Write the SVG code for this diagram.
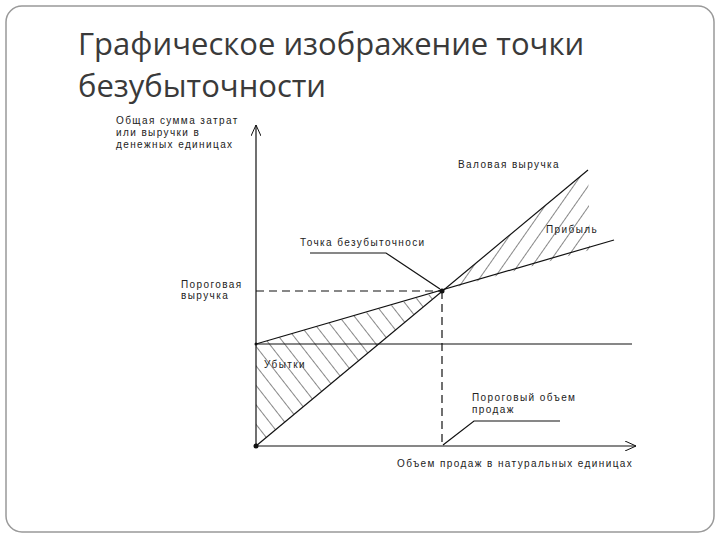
<svg xmlns="http://www.w3.org/2000/svg" width="720" height="540" viewBox="0 0 720 540">
<style>
.t{font-family:"Liberation Sans",Arial,sans-serif;font-size:10px;fill:#222;letter-spacing:1.4px}
.ln{stroke:#111;stroke-width:1.2;fill:none}
.ds{stroke:#111;stroke-width:1.2;fill:none;stroke-dasharray:8,5}
</style>
<defs>
<pattern id="hl" width="12" height="12" patternUnits="userSpaceOnUse" patternTransform="rotate(-38)"><line x1="0" y1="0" x2="0" y2="12" stroke="#111" stroke-width="1"/></pattern>
<pattern id="hp" width="12" height="12" patternUnits="userSpaceOnUse" patternTransform="rotate(35)"><line x1="0" y1="0" x2="0" y2="12" stroke="#111" stroke-width="1"/></pattern>
<marker id="ar" markerWidth="12" markerHeight="10" refX="11" refY="5" orient="auto" markerUnits="userSpaceOnUse"><path d="M0,0 L11,5 L0,10" fill="none" stroke="#111" stroke-width="1"/></marker>
</defs>
<rect width="720" height="540" fill="#fff"/>
<rect x="6" y="6" width="708" height="526" rx="16" fill="none" stroke="#999" stroke-width="1.5"/>
<g font-family="'Open Sans','Liberation Sans',sans-serif" font-size="31" fill="#3a3a3a">
<text x="78" y="55">Графическое изображение точки</text>
<text x="78" y="97">безубыточности</text>
</g>
<g id="hatch">
<polygon points="256,344 442,291 256,446" fill="url(#hl)"/>
<polygon points="442,291 588,170 590,250" fill="url(#hp)"/>
</g>
<g id="connectors">
<line class="ln" x1="256" y1="446" x2="256" y2="125" marker-end="url(#ar)"/>
<line class="ln" x1="256" y1="446" x2="636" y2="446" marker-end="url(#ar)"/>
<line class="ln" x1="256" y1="446" x2="588" y2="170"/>
<line class="ln" x1="256" y1="344" x2="614" y2="240"/>
<line class="ln" x1="256" y1="344" x2="632" y2="344"/>
<line class="ds" x1="256" y1="291" x2="442" y2="291"/>
<line class="ds" x1="442" y1="291" x2="442" y2="446"/>
<polyline class="ln" stroke-width="1" points="310,253 386,253 440,289"/>
<polyline class="ln" stroke-width="1" points="443,445 474,421 560,421"/>
<circle cx="442" cy="291" r="2.5" fill="#111"/>
<circle cx="256" cy="446" r="2.5" fill="#111"/>
<circle cx="256" cy="344" r="1.5" fill="#111"/>
</g>
<g id="labels">
<text class="t" x="116" y="124">Общая сумма затрат</text>
<text class="t" x="116" y="136">или выручки в</text>
<text class="t" x="116" y="148">денежных единицах</text>
<text class="t" x="458" y="168">Валовая выручка</text>
<text class="t" x="546" y="233">Прибыль</text>
<text class="t" x="300" y="246">Точка безубыточноси</text>
<text class="t" x="181" y="288">Пороговая</text>
<text class="t" x="181" y="299">выручка</text>
<text class="t" x="264" y="368">Убытки</text>
<text class="t" x="472" y="401">Пороговый объем</text>
<text class="t" x="472" y="413">продаж</text>
<text class="t" x="397" y="467">Объем продаж в натуральных единицах</text>
</g>
</svg>
